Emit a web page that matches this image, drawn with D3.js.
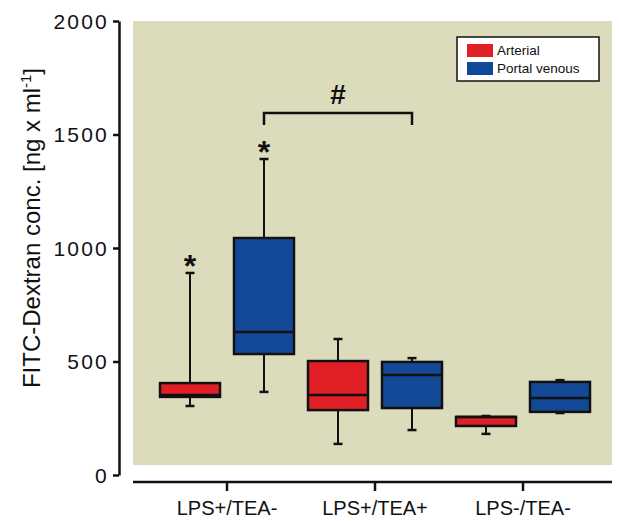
<!DOCTYPE html>
<html><head><meta charset="utf-8">
<script src="https://cdn.jsdelivr.net/npm/d3@7"></script>
<style>body{margin:0;background:#fff}svg{display:block}text{font-family:"Liberation Sans",Arial,sans-serif}</style>
</head><body>
<script>
const categories = ["LPS+/TEA-", "LPS+/TEA+", "LPS-/TEA-"];
const seriesNames = ["Arterial", "Portal venous"];
const seriesColors = ["#e01f26", "#134a98"];
// [whiskerLow, Q1, median, Q3, whiskerHigh]
const arterial = [
  [304, 344, 352, 405, 890],
  [137, 286, 352, 502, 599],
  [181, 216, 256, 256, 260]
];
const portal = [
  [366, 533, 630, 1044, 1392],
  [198, 295, 440, 498, 515],
  [273, 278, 339, 410, 418]
];
const yTicks = [0, 500, 1000, 1500, 2000];
const stars = [{cat: 0, s: 0}, {cat: 0, s: 1}];

const W = 619, H = 521;
const svg = d3.select("body").append("svg").attr("width", W).attr("height", H);

const y = d3.scaleLinear().domain([0, 2000]).range([475, 21]);
const x = d3.scaleBand().domain(categories).range([153, 597]).padding(0);
const xs = d3.scalePoint().domain(seriesNames).range([-37, 37]);
const cxOf = (ci, si) => x(categories[ci]) + x.bandwidth() / 2 + xs(seriesNames[si]);

// plot background
svg.append("rect").attr("x", 133).attr("y", 21).attr("width", 479).attr("height", 444).attr("fill", "#dcdcbd");

// y axis
const ya = svg.append("g").attr("transform", "translate(119,0)")
  .call(d3.axisLeft(y).tickValues(yTicks).tickFormat(d3.format("d")).tickSize(6).tickPadding(4).tickSizeOuter(0));
ya.select(".domain").attr("stroke", "#111").attr("stroke-width", 2.5);
ya.selectAll(".tick line").attr("stroke", "#111").attr("stroke-width", 2.5);
ya.selectAll(".tick text").attr("font-size", 21).attr("fill", "#111").attr("dy", "0.35em")
  .style("letter-spacing", "2.2px")
  .style("font-family", '"Liberation Sans",Arial,sans-serif');

// x axis
const xa = svg.append("g").attr("transform", "translate(0,482)")
  .call(d3.axisBottom(x).tickSize(9).tickPadding(10).tickSizeOuter(0));
xa.select(".domain").attr("d", "M133,0H612").attr("stroke", "#111").attr("stroke-width", 2.5);
xa.selectAll(".tick line").attr("stroke", "#111").attr("stroke-width", 2.5);
xa.selectAll(".tick text").attr("font-size", 20).attr("fill", "#111")
  .style("font-family", '"Liberation Sans",Arial,sans-serif');

// y title
svg.append("text").attr("transform", "translate(40,228) rotate(-90)")
  .attr("text-anchor", "middle").attr("font-size", 24).attr("fill", "#111")
  .html('FITC-Dextran conc. [ng x ml<tspan dy="-9" font-size="15">-1</tspan><tspan dy="9">]</tspan>');

// boxes
const boxW = 60;
const all = [arterial, portal];
all.forEach((series, si) => {
  series.forEach((d, ci) => {
    const cx = cxOf(ci, si);
    const g = svg.append("g");
    const cap = 9;
    g.append("line").attr("x1", cx).attr("x2", cx).attr("y1", y(d[3])).attr("y2", y(d[4])).attr("stroke", "#111").attr("stroke-width", 2);
    g.append("line").attr("x1", cx).attr("x2", cx).attr("y1", y(d[1])).attr("y2", y(d[0])).attr("stroke", "#111").attr("stroke-width", 2);
    g.append("line").attr("x1", cx - cap / 2).attr("x2", cx + cap / 2).attr("y1", y(d[4])).attr("y2", y(d[4])).attr("stroke", "#111").attr("stroke-width", 2.5);
    g.append("line").attr("x1", cx - cap / 2).attr("x2", cx + cap / 2).attr("y1", y(d[0])).attr("y2", y(d[0])).attr("stroke", "#111").attr("stroke-width", 2.5);
    g.append("rect").attr("x", cx - boxW / 2).attr("y", y(d[3])).attr("width", boxW).attr("height", y(d[1]) - y(d[3]))
      .attr("fill", seriesColors[si]).attr("stroke", "#111").attr("stroke-width", 2.5);
    g.append("line").attr("x1", cx - boxW / 2).attr("x2", cx + boxW / 2).attr("y1", y(d[2])).attr("y2", y(d[2])).attr("stroke", "#111").attr("stroke-width", 2.5);
  });
});

// significance stars
stars.forEach(s => {
  const d = all[s.s][s.cat];
  const cx = cxOf(s.cat, s.s);
  svg.append("text").attr("x", cx).attr("y", y(d[4]) + 4).attr("text-anchor", "middle")
    .attr("font-size", 32).attr("font-weight", "bold").attr("fill", "#111").text("*");
});

// bracket between portal LPS+/TEA- and portal LPS+/TEA+
const bx1 = cxOf(0, 1);
const bx2 = cxOf(1, 1);
const by = y(1595);
svg.append("path").attr("d", `M${bx1},${by + 12}V${by}H${bx2}V${by + 12}`).attr("fill", "none").attr("stroke", "#111").attr("stroke-width", 2.5);
svg.append("text").attr("x", (bx1 + bx2) / 2).attr("y", by - 9).attr("text-anchor", "middle")
  .attr("font-size", 28).attr("font-weight", "bold").attr("fill", "#111").text("#");

// legend
const lg = svg.append("g");
lg.append("rect").attr("x", 457).attr("y", 37).attr("width", 142).attr("height", 44).attr("fill", "#fff").attr("stroke", "#111").attr("stroke-width", 1.5);
seriesNames.forEach((n, i) => {
  lg.append("rect").attr("x", 467).attr("y", 44 + i * 18).attr("width", 26).attr("height", 13).attr("fill", seriesColors[i]);
  lg.append("text").attr("x", 497).attr("y", 55 + i * 18).attr("font-size", 13.5).attr("fill", "#111").text(n);
});
</script>
</body></html>
